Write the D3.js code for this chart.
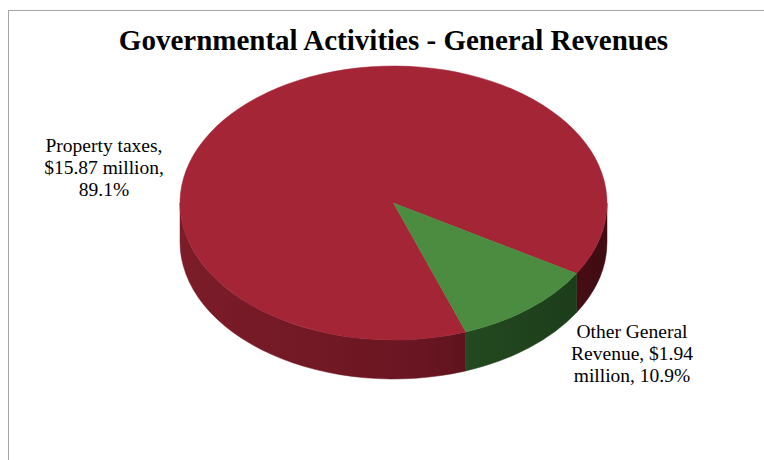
<!DOCTYPE html>
<html>
<head>
<meta charset="utf-8">
<script src="https://cdn.jsdelivr.net/npm/d3@7"></script>
<style>
  body { margin: 0; background: #fff; }
  svg { display: block; }
</style>
</head>
<body>
<div id="chart"></div>
<script>
// chart data
var categories = ["Property taxes", "Other General Revenue"];
var amounts = [15.87, 1.94];          // $ million
var percents = [89.1, 10.9];
var wordsPerLine = [[2, 2, 1], [2, 2, 2]];
var title = "Governmental Activities - General Revenues";

var W = 764, H = 460;

// pie geometry (3d ellipse)
var cx = 393.5, cy = 203, rx = 213.5, ry = 137, depth = 39;
var rotation = 160.2 * Math.PI / 180;

var topColors = ["#a32536", "#4b8c40"];
var sideStops = [["#7c1c29", "#6a1622", "#400b12"], ["#2f6128", "#264f22", "#1b3a19"]];

var svg = d3.select("#chart").append("svg")
  .attr("width", W)
  .attr("height", H);

// outer frame
svg.append("rect")
  .attr("x", 8.5).attr("y", 10.5)
  .attr("width", 800).attr("height", 500)
  .attr("fill", "none")
  .attr("stroke", "#a6a6a6")
  .attr("stroke-width", 1);

svg.append("text")
  .attr("x", 393.5)
  .attr("y", 50)
  .attr("text-anchor", "middle")
  .style("font-family", "'Liberation Serif', 'Times New Roman', serif")
  .style("font-weight", "bold")
  .style("font-size", "29px")
  .style("fill", "#000")
  .text(title);

var defs = svg.append("defs");
sideStops.forEach(function(st, i) {
  var g = defs.append("linearGradient")
    .attr("id", "side" + i)
    .attr("gradientUnits", "userSpaceOnUse")
    .attr("x1", cx - rx).attr("x2", cx + rx)
    .attr("y1", 0).attr("y2", 0);
  g.append("stop").attr("offset", "0%").attr("stop-color", st[0]);
  g.append("stop").attr("offset", "55%").attr("stop-color", st[1]);
  g.append("stop").attr("offset", "100%").attr("stop-color", st[2]);
});

var pie = d3.pie()
  .sort(null)
  .startAngle(rotation)
  .endAngle(rotation + 2 * Math.PI);

var arcs = pie(amounts);

function px(a) { return cx + rx * Math.sin(a); }
function py(a) { return cy - ry * Math.cos(a); }

function topPath(d) {
  var large = (d.endAngle - d.startAngle) > Math.PI ? 1 : 0;
  return "M" + cx + "," + cy +
    "L" + px(d.startAngle) + "," + py(d.startAngle) +
    "A" + rx + "," + ry + " 0 " + large + " 1 " + px(d.endAngle) + "," + py(d.endAngle) + "Z";
}

function sidePath(a0, a1) {
  var large = (a1 - a0) > Math.PI ? 1 : 0;
  return "M" + px(a0) + "," + py(a0) +
    "A" + rx + "," + ry + " 0 " + large + " 1 " + px(a1) + "," + py(a1) +
    "L" + px(a1) + "," + (py(a1) + depth) +
    "A" + rx + "," + ry + " 0 " + large + " 0 " + px(a0) + "," + (py(a0) + depth) + "Z";
}

// visible (front) pieces of each slice's wall
var sides = [];
arcs.forEach(function(d, i) {
  [0, 2 * Math.PI].forEach(function(off) {
    var lo = Math.max(d.startAngle, Math.PI / 2 + off);
    var hi = Math.min(d.endAngle, 3 * Math.PI / 2 + off);
    if (hi > lo) sides.push({i: i, a0: lo, a1: hi});
  });
});

svg.selectAll(".side")
  .data(sides)
  .enter().append("path")
  .attr("class", "side")
  .attr("d", function(s) { return sidePath(s.a0, s.a1); })
  .attr("fill", function(s) { return "url(#side" + s.i + ")"; })
  .attr("stroke", function(s) { return "url(#side" + s.i + ")"; })
  .attr("stroke-width", 0.5);

svg.selectAll(".slice")
  .data(arcs)
  .enter().append("path")
  .attr("class", "slice")
  .attr("d", topPath)
  .attr("fill", function(d, i) { return topColors[i]; })
  .attr("stroke", function(d, i) { return topColors[i]; })
  .attr("stroke-width", 0.5);

// data labels
var labelPos = [{x: 104, y: 152}, {x: 632, y: 338}];
var lineH = 21.8;

categories.forEach(function(c, i) {
  var words = (c + ", $" + amounts[i].toFixed(2) + " million, " + percents[i].toFixed(1) + "%").split(" ");
  var lines = [], k = 0;
  wordsPerLine[i].forEach(function(n) {
    lines.push(words.slice(k, k + n).join(" "));
    k += n;
  });
  var t = svg.append("text")
    .attr("text-anchor", "middle")
    .style("font-family", "'Liberation Serif', 'Times New Roman', serif")
    .style("font-size", "19.5px")
    .style("fill", "#000");
  lines.forEach(function(l, j) {
    t.append("tspan")
      .attr("x", labelPos[i].x)
      .attr("y", labelPos[i].y + j * lineH)
      .text(l);
  });
});
</script>
</body>
</html>
